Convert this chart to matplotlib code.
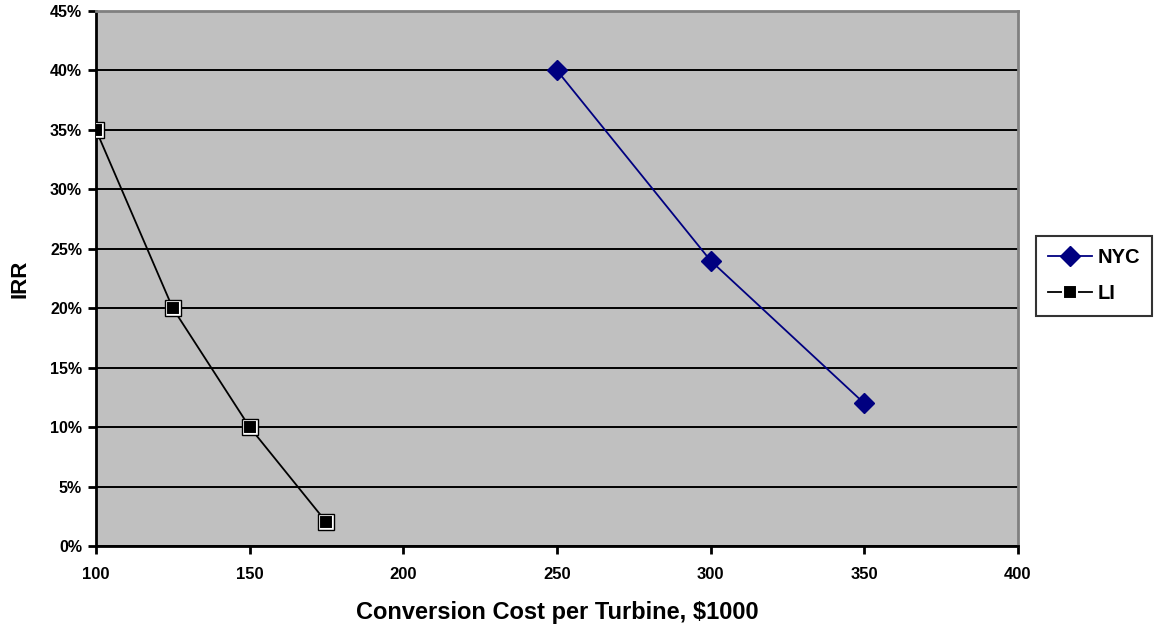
import numpy as np
import matplotlib
matplotlib.use('Agg')
import matplotlib.pyplot as plt
from matplotlib.ticker import PercentFormatter

plt.rcParams['font.family'] = ['Liberation Sans', 'DejaVu Sans']
plt.rcParams['font.weight'] = 'bold'

# data
nyc_cost = [250, 300, 350]
nyc_irr = [40, 24, 12]
li_cost = [100, 125, 150, 175]
li_irr = [35, 20, 10, 2]

fig = plt.figure(figsize=(11.59, 6.3), dpi=100)
ax = fig.add_axes([0.0828, 0.1333, 0.7955, 0.8492])
ax.set_facecolor('#C0C0C0')

ax.plot(nyc_cost, nyc_irr, color='#000080', lw=1.3, marker='D',
        markersize=10.5, markerfacecolor='#000080', markeredgecolor='#000080',
        label='NYC', zorder=3)
ax.plot(li_cost, li_irr, color='black', lw=1.3, marker='s',
        markersize=9.5, markerfacecolor='black', markeredgecolor='white',
        markeredgewidth=1.5, label='LI', zorder=3)
ax.plot(li_cost, li_irr, ls='none', marker='s', markersize=11,
        markerfacecolor='none', markeredgecolor='black', markeredgewidth=1,
        zorder=4)

ax.set_xlim(100, 400)
ax.set_ylim(0, 45)
ax.set_xticks(np.arange(100, 401, 50))
ax.set_yticks(np.arange(0, 46, 5))
ax.yaxis.set_major_formatter(PercentFormatter(decimals=0))
ax.grid(axis='y', color='black', lw=1.4)
ax.set_axisbelow(True)

for s in ['top', 'right']:
    ax.spines[s].set_color('#808080')
    ax.spines[s].set_linewidth(2)
for s in ['left', 'bottom']:
    ax.spines[s].set_color('black')
    ax.spines[s].set_linewidth(2)
ax.tick_params(direction='out', length=6, width=2, labelsize=11.5, pad=4)
ax.tick_params(axis='x', labelsize=12, pad=9)

ax.set_xlabel('Conversion Cost per Turbine, $1000', fontsize=17,
              fontweight='bold', labelpad=14)
ax.set_ylabel('IRR', fontsize=16, fontweight='bold', labelpad=14)

leg = fig.legend(handles=ax.get_lines()[:2], loc='center left',
                 bbox_to_anchor=(0.8939, 0.562), fontsize=14.5, frameon=True,
                 fancybox=False, edgecolor='black', handlelength=2.2,
                 borderpad=0.6, labelspacing=0.85, handletextpad=0.25,
                 borderaxespad=0)
leg.get_frame().set_linewidth(1.5)
leg.get_frame().set_facecolor('white')

fig.savefig('out.png', dpi=100)
